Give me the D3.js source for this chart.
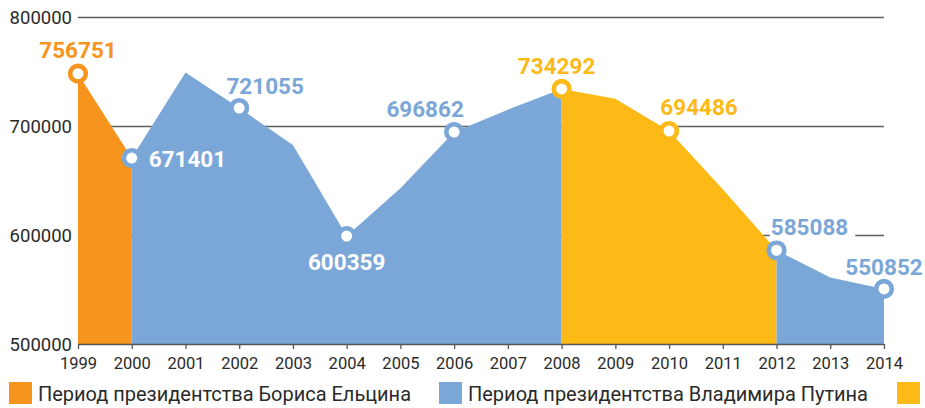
<!DOCTYPE html>
<html>
<head>
<meta charset="utf-8">
<script src="https://cdn.jsdelivr.net/npm/d3@7"></script>
<style>
  html, body { margin: 0; padding: 0; background: #fff; overflow: hidden; }
  svg { display: block; }
</style>
</head>
<body>
<svg id="chart" width="925" height="408"></svg>
<script>
// ---- data ----
const years = [1999, 2000, 2001, 2002, 2003, 2004, 2005, 2006, 2007, 2008, 2009, 2010, 2011, 2012, 2013, 2014];
const population = [748000, 670600, 749000, 716500, 682500, 599000, 643000, 694500, 715000, 734000, 725000, 695400, 642000, 586000, 561000, 550500];
const labelYears = [1999, 2000, 2002, 2004, 2006, 2008, 2010, 2012, 2014];
const labelTexts = ["756751", "671401", "721055", "600359", "696862", "734292", "694486", "585088", "550852"];
const yTicks = [500000, 600000, 700000, 800000];
const periodStarts = [1999, 2000, 2008, 2012];
const periodEnds = [2000, 2008, 2012, 2014];
const periodNames = ["yeltsin", "putin", "medvedev", "putin"];
const legendLabels = ["Период президентства Бориса Ельцина", "Период президентства Владимира Путина", ""];
const legendKeys = ["yeltsin", "putin", "medvedev"];

// ---- styles ----
const colors = { yeltsin: "#F7941D", putin: "#7BA7D8", medvedev: "#FDB915" };
const pointColor = { 1999: "yeltsin", 2000: "putin", 2002: "putin", 2004: "putin", 2006: "putin", 2008: "medvedev", 2010: "medvedev", 2012: "putin", 2014: "putin" };
const labelPos = {
  1999: { dx: 0,  dy: -24, anchor: "middle", fill: colors.yeltsin },
  2000: { dx: 17, dy: 1,   anchor: "start",  fill: "#fff" },
  2002: { dx: 26, dy: -22, anchor: "middle", fill: colors.putin },
  2004: { dx: 0,  dy: 26,  anchor: "middle", fill: "#fff" },
  2006: { dx: -29,dy: -23, anchor: "middle", fill: colors.putin },
  2008: { dx: -5, dy: -23, anchor: "middle", fill: colors.medvedev },
  2010: { dx: 30, dy: -24, anchor: "middle", fill: colors.medvedev },
  2012: { dx: 33, dy: -23, anchor: "middle", fill: colors.putin, bg: true },
  2014: { dx: 0,  dy: -22, anchor: "middle", fill: colors.putin }
};

const svg = d3.select("#chart");
const x = d3.scalePoint().domain(years).range([78, 884]);
const y = d3.scaleLinear().domain([500000, 800000]).range([344, 17]);

const data = years.map((yr, i) => ({ year: yr, value: population[i] }));
const byYear = new Map(data.map(d => [d.year, d]));

// gridlines
svg.append("g").selectAll("line")
  .data(yTicks.filter(t => t > 500000))
  .join("line")
  .attr("x1", x(1999)).attr("x2", x(2014))
  .attr("y1", d => y(d) + 0.5).attr("y2", d => y(d) + 0.5)
  .attr("stroke", "#5f5f5f").attr("stroke-width", 1.6);

// y tick labels
svg.append("g").selectAll("text")
  .data(yTicks)
  .join("text")
  .attr("x", 72).attr("y", d => y(d))
  .attr("dy", "0.36em")
  .attr("text-anchor", "end")
  .attr("font-family", "Roboto, 'Open Sans', sans-serif")
  .attr("font-size", 18.5)
  .attr("fill", "#2a2a2a")
  .text(d => d);

// areas
const area = d3.area()
  .x(d => x(d.year))
  .y0(y(500000))
  .y1(d => y(d.value));
periodStarts.forEach((s, i) => {
  const seg = data.filter(d => d.year >= s && d.year <= periodEnds[i]);
  svg.append("path")
    .datum(seg)
    .attr("d", area)
    .attr("fill", colors[periodNames[i]]);
});

// x axis
const xAxis = d3.axisBottom(x).tickSize(5).tickPadding(8);
const gx = svg.append("g").attr("transform", `translate(0,${y(500000)})`).call(xAxis);
gx.select(".domain").attr("stroke", "#555").attr("stroke-width", 1.3).attr("d", `M${x(1999)},0.5H${x(2014)}`);
gx.selectAll(".tick line").attr("stroke", "#555").attr("stroke-width", 1.3);
gx.selectAll(".tick text")
  .attr("font-family", "Roboto, 'Open Sans', sans-serif")
  .attr("font-size", 16.5)
  .attr("fill", "#2a2a2a");

// markers
const pts = labelYears.map((yr, i) => ({ d: byYear.get(yr), text: labelTexts[i] }));
svg.append("g").selectAll("circle")
  .data(pts)
  .join("circle")
  .attr("cx", p => x(p.d.year))
  .attr("cy", p => y(p.d.value))
  .attr("r", 7.8)
  .attr("fill", "#fff")
  .attr("stroke", p => colors[pointColor[p.d.year]])
  .attr("stroke-width", 4.6);

// labels
const lg = svg.append("g");
pts.forEach(p => {
  const pos = labelPos[p.d.year];
  const g = lg.append("g");
  const t = g.append("text")
    .attr("x", x(p.d.year) + pos.dx)
    .attr("y", y(p.d.value) + pos.dy)
    .attr("dy", "0.36em")
    .attr("text-anchor", pos.anchor)
    .attr("font-family", "Roboto, 'Open Sans', sans-serif")
    .attr("font-weight", "bold")
    .attr("font-size", 22.5)
    .attr("fill", pos.fill)
    .text(p.text);
  if (pos.bg) {
    const bb = t.node().getBBox();
    g.insert("rect", "text")
      .attr("x", bb.x - 1).attr("y", bb.y)
      .attr("width", bb.width + 8).attr("height", bb.height)
      .attr("fill", "#fff");
  }
});

// legend
const legendX = [9, 439, 897];
const textW = [373, 400, 0];
legendKeys.forEach((k, i) => {
  svg.append("rect")
    .attr("x", legendX[i]).attr("y", 382)
    .attr("width", 23).attr("height", 22)
    .attr("fill", colors[k]);
  if (legendLabels[i]) {
    svg.append("text")
      .attr("x", legendX[i] + 29).attr("y", 401)
      .attr("font-family", "Roboto, 'Open Sans', sans-serif")
      .attr("font-size", 20.5)
      .attr("fill", "#2a2a2a")
      .attr("textLength", textW[i])
      .attr("lengthAdjust", "spacingAndGlyphs")
      .text(legendLabels[i]);
  }
});
</script>
</body>
</html>
